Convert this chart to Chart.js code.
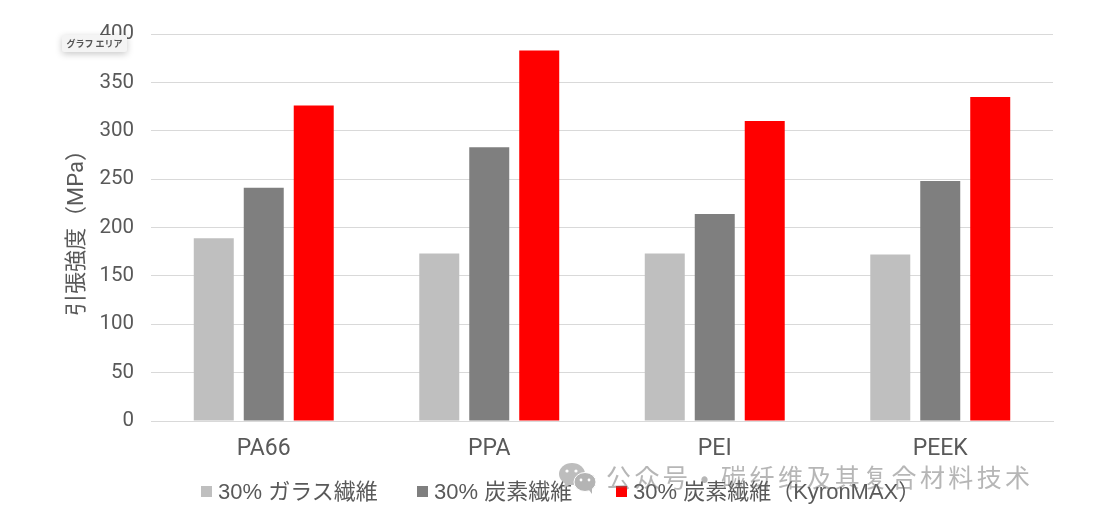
<!DOCTYPE html>
<html lang="ja">
<head>
<meta charset="utf-8">
<title>引張強度</title>
<script src="https://cdn.jsdelivr.net/npm/chart.js@4/dist/chart.umd.min.js"></script>
<style>
    html, body { margin: 0; padding: 0; background: #fff; }
    #wrap { position: relative; width: 1114px; height: 519px; overflow: hidden; }
    #tag {
        position: absolute; left: 62px; top: 35px; width: 65px; height: 17px;
        text-align: center; font: 600 9px/17px "Noto Sans CJK JP", sans-serif; color: #555;
        background: #f4f4f4; border-radius: 2px; box-shadow: 0 2px 7px rgba(0,0,0,.22);
    }
    #legend { position: absolute; left: 0; top: 477px; font: 22px/30px "Liberation Sans", "Noto Sans CJK JP", sans-serif; color: #595959; }
    .item { position: absolute; top: 0; white-space: nowrap; }
    .item i { position: absolute; left: 0; top: 9px; width: 11px; height: 11px; }
    .item span { position: absolute; left: 17px; top: 0; }
    #mark {
        position: absolute; left: 606px; top: 458px; white-space: nowrap; letter-spacing: 3.4px;
        font: 25px/36px "Noto Sans CJK SC", sans-serif; color: rgba(110,110,110,.5);
    }
    #wechat { position: absolute; left: 558px; top: 461px; }
</style>
</head>
<body>
<div id="wrap">
    <canvas id="chartResistencia" width="1114" height="519"></canvas>
    <div id="tag">グラフ エリア</div>
    <div id="legend"></div>
    <svg id="wechat" width="40" height="34" viewBox="0 0 40 34">
        <ellipse cx="14" cy="13" rx="13" ry="11" fill="#bdbdbd"/>
        <path d="M7 21 L6 27 L13 23 Z" fill="#bdbdbd"/>
        <ellipse cx="27" cy="21" rx="11" ry="9.5" fill="#b4b4b4" stroke="#fff" stroke-width="1"/>
        <path d="M31 29 L34 33 L34 26 Z" fill="#b4b4b4"/>
        <circle cx="9" cy="10" r="1.6" fill="#fff"/><circle cx="18" cy="10" r="1.6" fill="#fff"/>
        <circle cx="23" cy="19" r="1.4" fill="#fff"/><circle cx="31" cy="19" r="1.4" fill="#fff"/>
    </svg>
    <div id="mark">公众号 · 碳纤维及其复合材料技术</div>
</div>
<script>
const categories = ['PA66', 'PPA', 'PEI', 'PEEK'];
const glassFiber = [189, 173, 173, 172];
const carbonFiber = [241, 283, 214, 248];
const kyronMax = [326, 383, 310, 335];
const yTicks = [0, 50, 100, 150, 200, 250, 300, 350, 400];

const fontFamily = 'Roboto, "Noto Sans CJK JP", sans-serif';
const textColor = '#595959';

function barSet(label, data, color) {
    return {
        label: label,
        data: data,
        backgroundColor: color,
        barPercentage: 0.8,
        categoryPercentage: 0.665
    };
}

const chart = new Chart(document.getElementById('chartResistencia'), {
    type: 'bar',
    data: {
        labels: categories,
        datasets: [
            barSet('30% ガラス繊維', glassFiber, '#bfbfbf'),
            barSet('30% 炭素繊維', carbonFiber, '#7f7f7f'),
            barSet('30% 炭素繊維（KyronMAX）', kyronMax, '#ff0000')
        ]
    },
    options: {
        responsive: false,
        animation: false,
        layout: { padding: { top: 34, right: 61, bottom: 0, left: 64 } },
        plugins: {
            tooltip: { enabled: false },
            legend: { display: false }
        },
        scales: {
            x: {
                afterFit: function (axis) { axis.height = 98; },
                grid: { display: false },
                border: { color: '#d9d9d9' },
                ticks: { color: textColor, padding: 6, font: { family: fontFamily, size: 23 } }
            },
            y: {
                min: 0,
                max: 400,
                afterFit: function (axis) { axis.width = 87; },
                afterBuildTicks: function (axis) { axis.ticks = yTicks.map(v => ({ value: v })); },
                grid: { color: '#d9d9d9', drawTicks: false },
                border: { display: false },
                ticks: { color: textColor, padding: 17, font: { family: fontFamily, size: 20.5 } },
                title: {
                    display: true,
                    text: '引張強度（MPa）',
                    color: textColor,
                    padding: 0,
                    font: { family: fontFamily, size: 22 }
                }
            }
        }
    }
});

// Leyenda en HTML, para acercar la caja al texto como en el original
const legendLeft = [201, 417, 616];
chart.data.datasets.forEach(function (ds, i) {
    const item = document.createElement('div');
    item.className = 'item';
    item.style.left = legendLeft[i] + 'px';
    const box = document.createElement('i');
    box.style.background = ds.backgroundColor;
    const text = document.createElement('span');
    text.textContent = ds.label;
    item.append(box, text);
    document.getElementById('legend').append(item);
});
</script>
</body>
</html>
